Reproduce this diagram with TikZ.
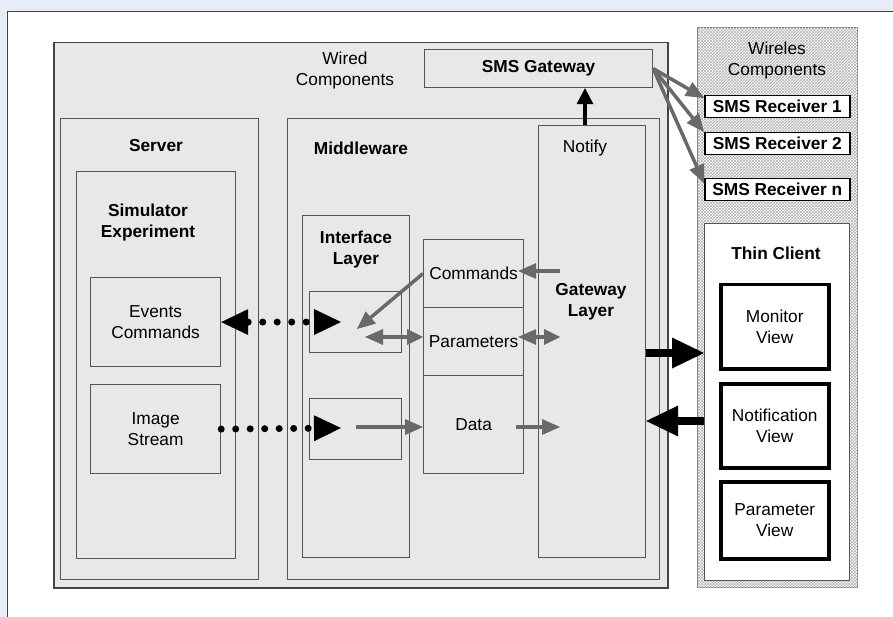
\documentclass[tikz,border=0pt]{standalone}
\usepackage{fontspec}
\setmainfont{Liberation Sans}
\usetikzlibrary{arrows.meta,patterns}
\definecolor{pageblue}{HTML}{E6EDF7}
\definecolor{framegray}{HTML}{444444}
\definecolor{wiredfill}{HTML}{E8E8E8}
\definecolor{edgegray}{HTML}{555555}
\definecolor{arrowgray}{HTML}{696969}
\newcommand{\diafont}{\fontsize{17.3pt}{21pt}\selectfont}

\tikzset{
  box/.style={draw=edgegray, fill=wiredfill, line width=1.2pt, inner sep=0pt,
    anchor=north west, align=center, font=\diafont},
  lbl/.style={inner sep=0pt, align=center, font=\diafont},
  lblb/.style={lbl, font=\diafont\bfseries},
  recv/.style={box, fill=white, draw=black, line width=1.5pt, font=\diafont\bfseries,
    minimum width=145pt, minimum height=22pt},
  viewbox/.style={box, fill=white, draw=black, line width=3.5pt, minimum width=108pt},
  grayarrow/.style={draw=arrowgray, line width=3.5pt,
    -{Triangle[length=18pt,width=16pt,line width=0pt]}},
  grayboth/.style={grayarrow,
    {Triangle[length=18pt,width=16pt,line width=0pt]}-{Triangle[length=16pt,width=16pt,line width=0pt]}},
  fatarrow/.style={draw=black, line width=8pt,
    -{Triangle[length=32pt,width=31pt,line width=0pt]}},
  dotline/.style={line width=7pt, line cap=round, dash pattern=on 0pt off 14.5pt}
}

\begin{document}
\begin{tikzpicture}[x=1pt, y=-1pt]
  \useasboundingbox (0,0) rectangle (893,617);
  \clip (0,0) rectangle (893,617);
  \fill[pageblue] (0,0) rectangle (893,617);% window background
  \draw[fill=white, draw=framegray, line width=1pt] (7,12) rectangle (905,630);

  % wired components
  \node[box, draw=framegray, line width=1.5pt, minimum width=614pt, minimum height=545pt] (wired) at (53,42) {};
  \node[lbl] (wiredtxt) at (345,71) {Wired\\Components};
  \node[box, font=\diafont\bfseries, minimum width=228pt, minimum height=38pt] (smsgw) at (424,49) {SMS Gateway};

  % server side
  \node[box, minimum width=198pt, minimum height=461pt] (server) at (60,118) {};
  \node[lblb] (servertxt) at (156,146) {Server};
  \node[box, minimum width=159pt, minimum height=387pt] (sim) at (76,171) {};
  \node[lblb] (simtxt) at (148,223) {Simulator\\Experiment};
  \node[box, minimum width=130pt, minimum height=89pt] (events) at (90,277) {Events\\Commands};
  \node[box, minimum width=130pt, minimum height=89pt] (image) at (90,384) {Image\\Stream};

  % middleware
  \node[box, minimum width=372pt, minimum height=461pt] (mw) at (287,118) {};
  \node[lblb] (mwtxt) at (361,148) {Middleware};
  \node[box, minimum width=107pt, minimum height=342pt] (iface) at (302,215) {};
  \node[lblb] (iftxt) at (356,249.5) {Interface\\Layer};
  \node[box, minimum width=92pt, minimum height=61pt] (port1) at (309,291) {};
  \node[box, minimum width=92pt, minimum height=61pt] (port2) at (309,398) {};
  \node[box, minimum width=100pt, minimum height=68pt] (cmd) at (423,239) {Commands};
  \node[box, minimum width=100pt, minimum height=68pt] (par) at (423,307) {Parameters};
  \node[box, minimum width=100pt, minimum height=98pt] (dat) at (423,375) {Data};
  \node[box, minimum width=107pt, minimum height=432pt] (gwl) at (538,125) {};
  \node[lbl] (notifytxt) at (585,148) {Notify};
  \node[lblb] (gwtxt) at (591,302) {Gateway\\Layer};

  % wireless components
  \node[box, fill=white, draw=gray, line width=1pt, minimum width=160pt, minimum height=560pt,
    postaction={pattern=crosshatch, pattern color=gray!60}] (wireless) at (697,27) {};
  \node[lbl] (wltxt) at (777,60.5) {Wireles\\Components};
  \foreach \n/\y/\t in {r1/95/1, r2/132/2, rn/178/n}{% one receiver per row
    \node[recv] (\n) at (704,\y) {SMS Receiver \t};
  }
  \node[box, fill=white, draw=edgegray, minimum width=145pt, minimum height=357pt] (thin) at (704,223) {};
  \node[lblb] (thintxt) at (776,253) {Thin Client};
  \node[viewbox, minimum height=84pt] (monitor) at (719,283) {Monitor\\View};
  \node[viewbox, minimum height=84pt] (notif) at (719,382) {Notification\\View};
  \node[viewbox, minimum height=77pt] (parview) at (719,480) {Parameter\\View};

  % free ends of the gray arrows
  \coordinate (gin1) at (560,271);
  \coordinate (gin2) at (560,337);
  \coordinate (gin3) at (560,427);
  \coordinate (pin1) at (357,329);
  \coordinate (pin2) at (365,337);
  \coordinate (pin3) at (356,427);
  \coordinate (evtip) at (341,322);
  \coordinate (imtip) at (341,428);
  \coordinate (upper) at (0,353);
  \coordinate (lower) at (0,421);

  % dotted links server -> interface
  \draw[dotline, {Triangle[length=27pt,width=26pt,line width=0pt]}-{Triangle[length=27pt,width=26pt,line width=0pt]}]
    (events.east) -- (evtip);
  \draw[dotline, -{Triangle[length=27pt,width=26pt,line width=0pt]}] (image.east) -- (imtip);

  % middleware arrows
  \draw[grayarrow] (gin1) -- ([xshift=-6pt]gin1 -| cmd.east);
  \draw[grayarrow] (cmd.west) -- (pin1);
  \draw[grayboth] (pin2) -- (pin2 -| par.west);
  \draw[grayboth] ([xshift=-6pt]pin2 -| par.east) -- (gin2);
  \draw[grayarrow] (pin3) -- (pin3 -| dat.west);
  \draw[grayarrow] ([xshift=-8pt]pin3 -| dat.east) -- (gin3);

  % notify and sms
  \draw[draw=black, line width=3.5pt, -{Triangle[length=16pt,width=17pt,line width=0pt]}]
    (notifytxt.north |- gwl.north) -- (notifytxt.north |- smsgw.south);
  \draw[grayarrow] (smsgw.east) -- ([yshift=-3pt]r1.north west);
  \draw[grayarrow] (smsgw.east) -- (r2.north west);
  \draw[grayarrow] (smsgw.east) -- ([yshift=-5pt]rn.north west);

  % thin client links
  \draw[fatarrow] (upper -| gwl.east) -- (upper -| thin.west);
  \draw[fatarrow] (lower -| thin.west) -- (lower -| gwl.east);
\end{tikzpicture}
\end{document}
